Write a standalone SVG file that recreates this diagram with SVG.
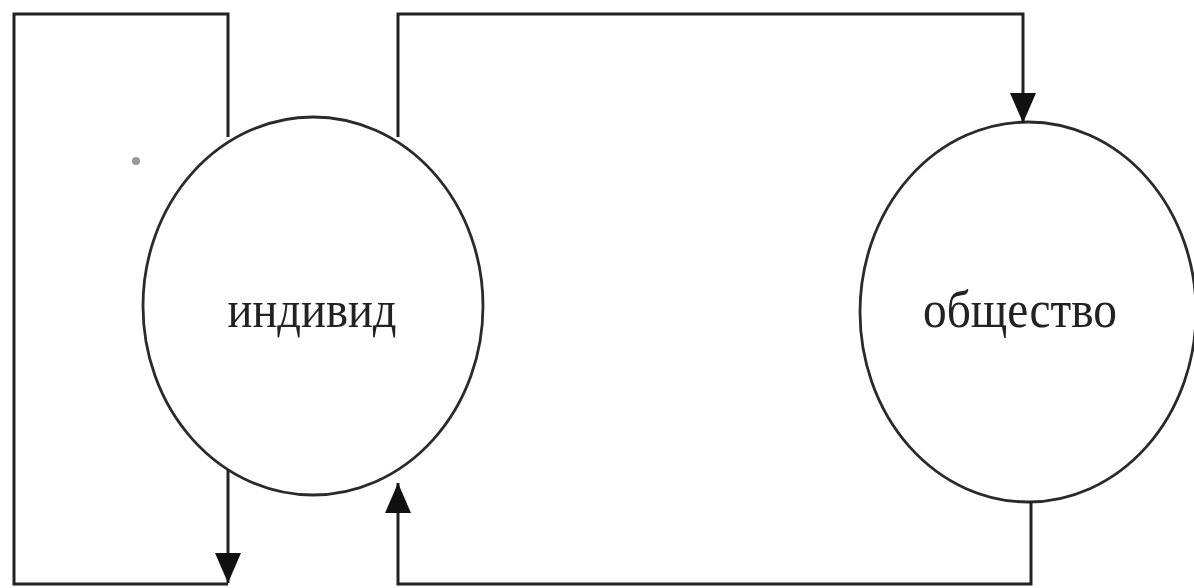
<svg xmlns="http://www.w3.org/2000/svg" width="1194" height="588" viewBox="0 0 1194 588">
<style>
.node{fill:none;stroke:#2a2a2a;stroke-width:2.8}
.conn{fill:none;stroke:#222;stroke-width:3}
.lbl{font-family:"Liberation Serif","DejaVu Serif",serif;font-size:52px;fill:#222}
</style>
<defs>
<marker id="ahb" viewBox="0 0 30 26" refX="30" refY="13" markerWidth="30" markerHeight="26" markerUnits="userSpaceOnUse" orient="auto">
<path d="M0,0 L30,13 L0,26 z" fill="#111"/>
</marker>
</defs>
<rect width="1194" height="588" fill="#fff"/>
<g id="individ">
<ellipse class="node" cx="313" cy="306" rx="170" ry="189"/>
<text class="lbl" x="312" y="327" text-anchor="middle" textLength="169" lengthAdjust="spacingAndGlyphs">индивид</text>
</g>
<g id="obshchestvo">
<ellipse class="node" cx="1028" cy="312" rx="168" ry="190"/>
<text class="lbl" x="1020" y="327" text-anchor="middle" textLength="194" lengthAdjust="spacingAndGlyphs">общество</text>
</g>
<g id="connectors">
<path class="conn" d="M228,137 L228,14 L14,14 L14,584 L228,584"/>
<path class="conn" d="M228,470 L228,583" marker-end="url(#ahb)"/>
<path class="conn" d="M398,137 L398,14 L1023,14 L1023,123" marker-end="url(#ahb)"/>
<path class="conn" d="M1031,502 L1031,584 L398,584 L398,483" marker-end="url(#ahb)"/>
</g>
<circle cx="136" cy="161" r="4" fill="#999"/>
</svg>
